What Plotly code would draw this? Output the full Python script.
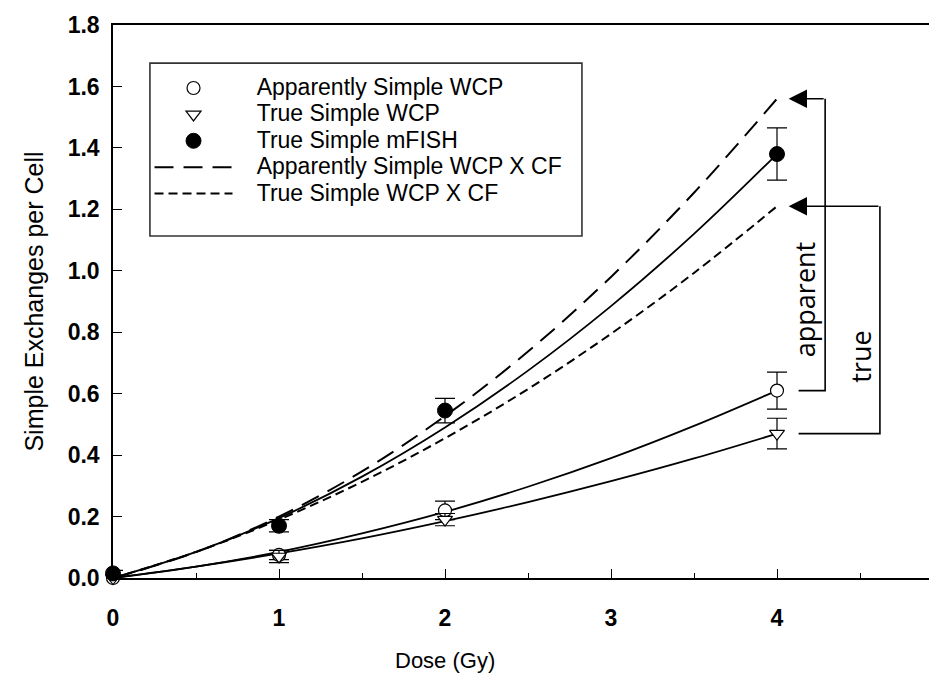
import plotly.graph_objects as go

# ---- data ----
doses = [0, 1, 2, 4]
app_vals = [0.0, 0.075, 0.22, 0.61]
app_err = [0.005, 0.015, 0.03, 0.06]
true_vals = [0.0, 0.07, 0.19, 0.47]
true_err = [0.005, 0.02, 0.02, 0.05]
mfish_vals = [0.015, 0.17, 0.545, 1.38]
mfish_err = [0.01, 0.02, 0.04, 0.085]

fit_dose = [0, 0.5, 1, 1.5, 2, 2.5, 3, 3.5, 4]
mfish_fit = [0, 0.085, 0.195, 0.33, 0.49, 0.675, 0.885, 1.12, 1.38]
app_fit = [0, 0.037, 0.085, 0.145, 0.215, 0.297, 0.39, 0.495, 0.61]
true_fit = [0, 0.037, 0.08, 0.129, 0.185, 0.247, 0.315, 0.389, 0.47]
app_cf_fit = [0, 0.084, 0.20, 0.347, 0.527, 0.737, 0.98, 1.254, 1.56]
true_cf_fit = [0, 0.085, 0.19, 0.313, 0.455, 0.615, 0.795, 0.993, 1.21]

x_ticks = [0, 1, 2, 3, 4]

FONT = "Liberation Sans, Arial, sans-serif"


def lg(name):
    return f'<span style="font-size:23px">\u00a0\u00a0\u00a0{name}</span>'


fig = go.Figure()

# fitted curves
for ys in (mfish_fit, app_fit, true_fit):
    fig.add_trace(go.Scatter(x=fit_dose, y=ys, mode="lines", line=dict(color="black", width=1.8, shape="spline"),
                             showlegend=False, hoverinfo="skip"))

fig.add_trace(go.Scatter(x=fit_dose, y=app_cf_fit, mode="lines", name=lg("Apparently Simple WCP X CF"),
                         line=dict(color="black", width=2, dash="19px,10px", shape="spline"),
                         legendrank=4))
fig.add_trace(go.Scatter(x=fit_dose, y=true_cf_fit, mode="lines", name=lg("True Simple WCP X CF"),
                         line=dict(color="black", width=2, dash="9px,5px", shape="spline"),
                         legendrank=5))

eb = dict(type="data", color="black", thickness=1.2, width=10)
fig.add_trace(go.Scatter(x=doses, y=app_vals, mode="markers", name=lg("Apparently Simple WCP"),
                         marker=dict(symbol="circle", size=13, color="white", line=dict(color="black", width=1.2)),
                         error_y=dict(array=app_err, **eb), legendrank=1, cliponaxis=False))
fig.add_trace(go.Scatter(x=doses, y=true_vals, mode="markers", name=lg("True Simple WCP"),
                         marker=dict(symbol="triangle-down", size=13, color="white", line=dict(color="black", width=1.2)),
                         error_y=dict(array=true_err, **eb), legendrank=2, cliponaxis=False))
fig.add_trace(go.Scatter(x=doses, y=mfish_vals, mode="markers", name=lg("True Simple mFISH"),
                         marker=dict(symbol="circle", size=15, color="black", line=dict(color="black", width=1)),
                         error_y=dict(array=mfish_err, **eb), legendrank=3, cliponaxis=False))

# legend frame
fig.add_shape(type="rect", xref="paper", yref="paper", x0=0.0445, x1=0.565, y0=0.6185, y1=0.931,
              line=dict(color="#333333", width=1.6), fillcolor="white", layer="below")

# brackets with arrows
bx_start = 4.13
app_bx = 4.29
true_bx = 4.62
arrow_tip = 4.07
line_st = dict(color="black", width=1.6)
fig.add_shape(type="path", xref="x", yref="y", line=line_st,
              path=f"M{bx_start},{app_vals[-1]} L{app_bx},{app_vals[-1]} L{app_bx},{app_cf_fit[-1]}")
fig.add_shape(type="path", xref="x", yref="y", line=line_st,
              path=f"M{bx_start},{true_vals[-1]} L{true_bx},{true_vals[-1]} L{true_bx},{true_cf_fit[-1]}")
for bx, yv in ((app_bx, app_cf_fit[-1]), (true_bx, true_cf_fit[-1])):
    fig.add_annotation(x=arrow_tip, y=yv, ax=bx, ay=yv, xref="x", yref="y", axref="x", ayref="y",
                       text="", showarrow=True, arrowhead=2, arrowsize=2.3, arrowwidth=1.6, arrowcolor="black")

fig.add_annotation(x=4.17, y=0.905, xref="x", yref="y", text="apparent", showarrow=False, textangle=-90,
                   font=dict(family="Open Sans, sans-serif", size=27, color="black"))
fig.add_annotation(x=4.505, y=0.72, xref="x", yref="y", text="true", showarrow=False, textangle=-90,
                   font=dict(family="Open Sans, sans-serif", size=27, color="black"))

# x axis title
fig.add_annotation(x=2, y=-0.15, xref="x", yref="paper", text="Dose (Gy)", showarrow=False,
                   yanchor="middle", font=dict(family=FONT, size=22, color="black"))

fig.update_layout(
    width=937, height=694,
    margin=dict(l=105, r=0, t=17, b=124),
    paper_bgcolor="white", plot_bgcolor="white",
    font=dict(family=FONT, color="black"),
    showlegend=True,
    legend=dict(x=0.044, y=0.919, xanchor="left", yanchor="top",
                borderwidth=0, bgcolor="rgba(0,0,0,0)",
                font=dict(family=FONT, size=18, color="black"),
                itemwidth=78, traceorder="normal"),
    xaxis=dict(range=[0, 5], tickvals=x_ticks, showline=True, linecolor="black", linewidth=1.5,
               mirror=True, ticks="inside", ticklen=9, tickwidth=1.3, tickcolor="black",
               minor=dict(dtick=0.5, ticks="inside", ticklen=5, tickwidth=1.3, tickcolor="black"),
               showgrid=False, zeroline=False, ticklabelstandoff=19,
               tickfont=dict(family=FONT, size=23, weight="bold", color="black")),
    yaxis=dict(range=[0, 1.8], dtick=0.2, tickformat=".1f", showline=True, linecolor="black", linewidth=1.5,
               mirror="ticks", ticks="inside", ticklen=9, tickwidth=1.3, tickcolor="black",
               showgrid=False, zeroline=False, ticklabelstandoff=7,
               tickfont=dict(family=FONT, size=23, weight="bold", color="black"),
               title=dict(text="Simple Exchanges per Cell", standoff=17,
                          font=dict(family=FONT, size=25, color="black"))),
)

fig.write_html("out.html")
